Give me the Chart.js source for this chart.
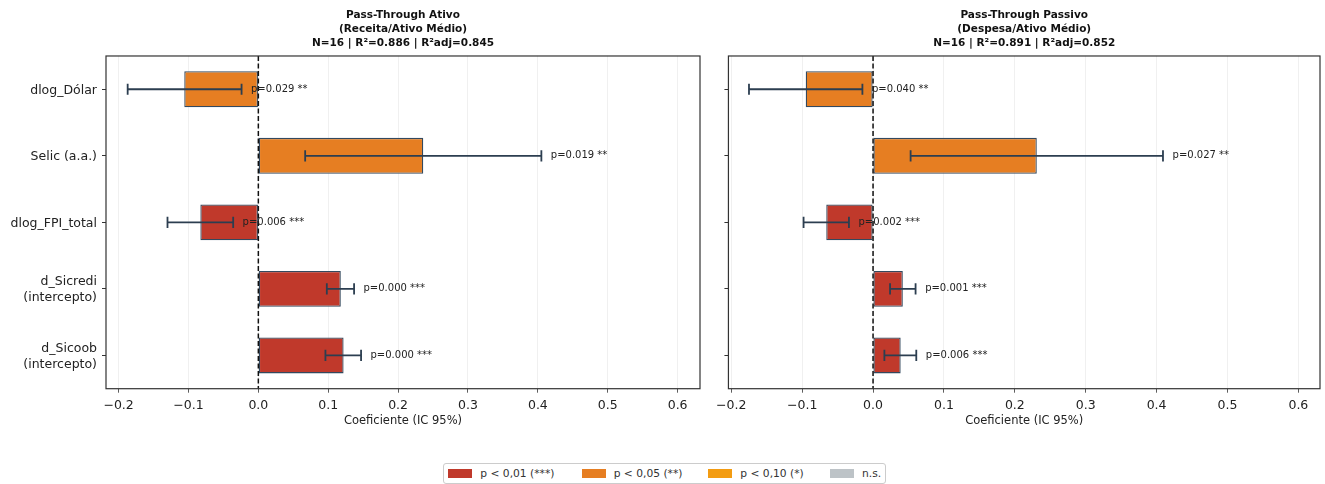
<!DOCTYPE html>
<html>
<head>
<meta charset="utf-8">
<script src="https://cdn.jsdelivr.net/npm/chart.js@4.4.1/dist/chart.umd.min.js"></script>
<style>
  html, body { margin: 0; padding: 0; background: #ffffff; width: 1325px; height: 484px; overflow: hidden; font-family: "DejaVu Sans", sans-serif; }
  #wrapA { position: absolute; left: 0; top: 0; width: 710px; height: 440px; }
  #wrapP { position: absolute; left: 710px; top: 0; width: 615px; height: 440px; }
  .legend { position: absolute; left: 443px; top: 463px; width: 443px; height: 21px; box-sizing: border-box; border: 1px solid #cccccc; border-radius: 3px; font-size: 10.7px; color: #333333; }
  .item { position: absolute; top: 0; height: 19px; display: flex; align-items: center; white-space: nowrap; }
  .sw { width: 24px; height: 9px; margin-right: 8px; }
</style>
</head>
<body>
<div id="wrapA"><canvas id="ativo"></canvas></div>
<div id="wrapP"><canvas id="passivo"></canvas></div>
<div class="legend" id="legend"></div>
<script>
// Regressors (bottom of list = bottom of the axis)
const categories = ['dlog_Dólar', 'Selic (a.a.)', 'dlog_FPI_total', ['d_Sicredi', '(intercepto)'], ['d_Sicoob', '(intercepto)']];

// Pass-through on assets: coefficient, 95% CI bounds, p-value
const ativoCoef = [-0.106, 0.236, -0.083, 0.118, 0.122];
const ativoLow  = [-0.187, 0.067, -0.130, 0.098, 0.096];
const ativoHigh = [-0.024, 0.405, -0.036, 0.137, 0.147];
const ativoP    = [0.029, 0.019, 0.006, 0.000, 0.000];

// Pass-through on liabilities
const passivoCoef = [-0.095, 0.231, -0.066, 0.042, 0.039];
const passivoLow  = [-0.175, 0.053, -0.098, 0.024, 0.016];
const passivoHigh = [-0.015, 0.409, -0.034, 0.060, 0.061];
const passivoP    = [0.040, 0.027, 0.002, 0.001, 0.006];

const ativoTitle   = ['Pass-Through Ativo', '(Receita/Ativo Médio)', 'N=16 | R²=0.886 | R²adj=0.845'];
const passivoTitle = ['Pass-Through Passivo', '(Despesa/Ativo Médio)', 'N=16 | R²=0.891 | R²adj=0.852'];

const xTicks = [-0.2, -0.1, 0.0, 0.1, 0.2, 0.3, 0.4, 0.5, 0.6];

// Significance classes
const sigLabels = ['p < 0,01 (***)', 'p < 0,05 (**)', 'p < 0,10 (*)', 'n.s.'];
const sigColors = ['#c0392b', '#e67e22', '#f39c12', '#bdc3c7'];

const FONT = '"DejaVu Sans", sans-serif';

function sigClass(p) { return p < 0.01 ? 0 : p < 0.05 ? 1 : p < 0.10 ? 2 : 3; }
function stars(p) { return p < 0.01 ? '***' : p < 0.05 ? '**' : p < 0.10 ? '*' : ''; }

// Zero reference line, CI whiskers, p-value labels and axes frame
const overlay = {
  id: 'overlay',
  afterDatasetsDraw(chart, args, opts) {
    const { ctx, chartArea: a, scales: { x, y } } = chart;
    ctx.save();
    const x0 = x.getPixelForValue(0);
    ctx.beginPath();
    ctx.setLineDash([5, 2.5]);
    ctx.lineWidth = 1.5;
    ctx.strokeStyle = '#111111';
    ctx.moveTo(x0, a.top);
    ctx.lineTo(x0, a.bottom);
    ctx.stroke();
    ctx.setLineDash([]);

    ctx.strokeStyle = '#2c3e50';
    ctx.lineWidth = 1.8;
    const cap = 5.6;
    opts.low.forEach((lo, i) => {
      const yc = y.getPixelForValue(i);
      const xl = x.getPixelForValue(lo);
      const xh = x.getPixelForValue(opts.high[i]);
      ctx.beginPath();
      ctx.moveTo(xl, yc); ctx.lineTo(xh, yc);
      ctx.moveTo(xl, yc - cap); ctx.lineTo(xl, yc + cap);
      ctx.moveTo(xh, yc - cap); ctx.lineTo(xh, yc + cap);
      ctx.stroke();
    });

    ctx.font = '10px ' + FONT;
    ctx.fillStyle = '#222222';
    ctx.textBaseline = 'middle';
    ctx.textAlign = 'left';
    opts.p.forEach((p, i) => {
      const yc = y.getPixelForValue(i);
      const xv = Math.max(opts.high[i], opts.coef[i]) + 0.0135;
      ctx.fillText('p=' + p.toFixed(3) + ' ' + stars(p), x.getPixelForValue(xv), yc);
    });

    ctx.strokeStyle = '#333333';
    ctx.lineWidth = 1.2;
    ctx.strokeRect(a.left, a.top, a.right - a.left, a.bottom - a.top);
    ctx.restore();
  }
};

function makeChart(id, title, coef, low, high, pv, xmin, xmax, yWidth, showLabels, padRight) {
  return new Chart(document.getElementById(id), {
    type: 'bar',
    data: {
      labels: categories,
      datasets: [{
        data: coef,
        backgroundColor: pv.map(p => sigColors[sigClass(p)]),
        borderColor: '#34495e',
        borderWidth: 1.3,
        borderSkipped: false,
        barPercentage: 0.54,
        categoryPercentage: 1.0
      }]
    },
    options: {
      indexAxis: 'y',
      responsive: true,
      maintainAspectRatio: false,
      animation: false,
      layout: { padding: { left: 0, right: padRight, top: 0, bottom: 12.8 } },
      plugins: {
        legend: { display: false },
        tooltip: { enabled: false },
        title: {
          display: true,
          text: title,
          fullSize: false,
          color: '#111111',
          font: { family: FONT, size: 10.5, weight: 'bold', lineHeight: 1.333 },
          padding: { top: 8, bottom: 6 }
        },
        overlay: { coef: coef, low: low, high: high, p: pv }
      },
      scales: {
        x: {
          type: 'linear',
          min: xmin,
          max: xmax,
          afterBuildTicks: s => { s.ticks = xTicks.map(v => ({ value: v })); },
          ticks: {
            color: '#222222',
            padding: 6,
            font: { family: FONT, size: 12.5 },
            callback: v => (Math.abs(v) < 1e-9 ? '0.0' : (v < 0 ? '\u2212' + Math.abs(v).toFixed(1) : v.toFixed(1)))
          },
          grid: { color: '#ececec', lineWidth: 0.8, tickColor: '#333333', tickLength: 4 },
          border: { display: false },
          title: {
            display: true,
            text: 'Coeficiente (IC 95%)',
            color: '#222222',
            font: { family: FONT, size: 11.5, lineHeight: 1.0 },
            padding: { top: -4, bottom: 0 }
          }
        },
        y: {
          type: 'category',
          offset: true,
          afterFit: s => { s.width = yWidth; },
          ticks: {
            color: '#222222',
            padding: 5,
            labelOffset: 1,
            autoSkip: false,
            font: { family: FONT, size: 12.5, lineHeight: 1.3 },
            callback: function (v, i) { return showLabels ? this.getLabelForValue(v) : ''; }
          },
          grid: { offset: false, drawOnChartArea: false, tickColor: '#333333', tickLength: 4 },
          border: { display: false }
        }
      }
    },
    plugins: [overlay]
  });
}

makeChart('ativo', ativoTitle, ativoCoef, ativoLow, ativoHigh, ativoP, -0.218, 0.632, 106, true, 10);
makeChart('passivo', passivoTitle, passivoCoef, passivoLow, passivoHigh, passivoP, -0.204, 0.6305, 17, false, 5);

// Figure-level legend for significance classes
const legendOffsets = [4.3, 137.7, 264.3, 386];
const legend = document.getElementById('legend');
sigLabels.forEach((lab, i) => {
  const it = document.createElement('div');
  it.className = 'item';
  it.style.left = legendOffsets[i] + 'px';
  const sw = document.createElement('span');
  sw.className = 'sw';
  sw.style.background = sigColors[i];
  const tx = document.createElement('span');
  tx.textContent = lab;
  it.appendChild(sw);
  it.appendChild(tx);
  legend.appendChild(it);
});
</script>
</body>
</html>
